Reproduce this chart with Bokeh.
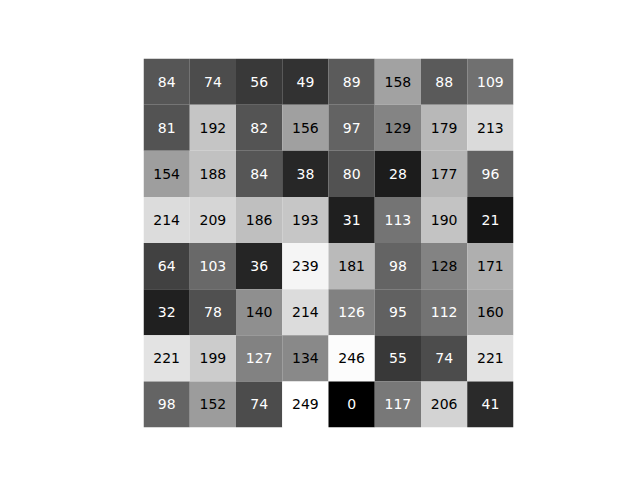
from bokeh.plotting import figure
from bokeh.models import ColumnDataSource, LinearColorMapper, Range1d
from bokeh.core.properties import value
from bokeh.embed import file_html
from bokeh.resources import INLINE

row0 = [84, 74, 56, 49, 89, 158, 88, 109]
row1 = [81, 192, 82, 156, 97, 129, 179, 213]
row2 = [154, 188, 84, 38, 80, 28, 177, 96]
row3 = [214, 209, 186, 193, 31, 113, 190, 21]
row4 = [64, 103, 36, 239, 181, 98, 128, 171]
row5 = [32, 78, 140, 214, 126, 95, 112, 160]
row6 = [221, 199, 127, 134, 246, 55, 74, 221]
row7 = [98, 152, 74, 249, 0, 117, 206, 41]
rows = [row0, row1, row2, row3, row4, row5, row6, row7]

xs, ys, vals, labels = [], [], [], []
for r, row in enumerate(rows):
    for c, v in enumerate(row):
        xs.append(c + 0.5)
        ys.append(r + 0.5)
        vals.append(v)
        labels.append(str(v))

src = ColumnDataSource(dict(x=xs, y=ys, v=vals, label=labels))

gray = ['#%02x%02x%02x' % (i, i, i) for i in range(256)]
cmap = LinearColorMapper(palette=gray, low=0, high=249)
tmap = LinearColorMapper(palette=["#ffffff", "#000000"], low=0, high=255)

p = figure(width=624, height=464, output_backend="svg", toolbar_location=None,
           x_range=Range1d(0, 8), y_range=Range1d(8, 0),
           min_border_left=143, min_border_right=111,
           min_border_top=58, min_border_bottom=37)
p.axis.visible = False
p.grid.visible = False
p.outline_line_color = None
p.background_fill_color = "white"
p.border_fill_color = "white"

p.rect(x="x", y="y", width=1, height=1, source=src,
       fill_color={"field": "v", "transform": cmap}, line_color=None)
p.text(x="x", y="y", text="label", source=src,
       text_color={"field": "v", "transform": tmap},
       text_align="center", text_baseline="middle",
       text_font=value("DejaVu Sans"), text_font_size="14px")

open("out.html", "w").write(file_html(p, INLINE))
